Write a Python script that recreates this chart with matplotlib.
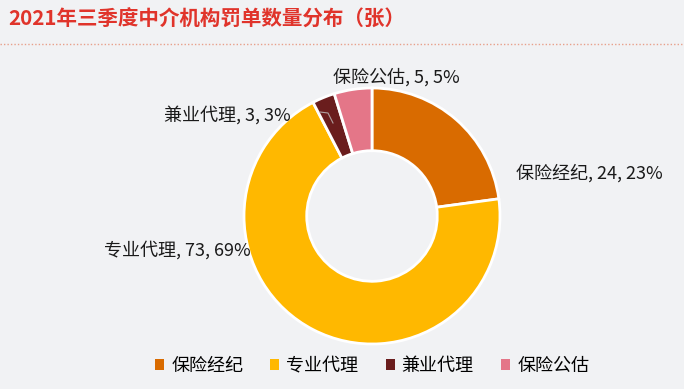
import matplotlib
matplotlib.use('Agg')
import matplotlib.pyplot as plt
from matplotlib.patches import Patch
from matplotlib.lines import Line2D

plt.rcParams['font.family'] = ['Noto Sans CJK SC', 'DejaVu Sans']

# --- DATA ---
CATEGORIES = ['保险经纪', '专业代理', '兼业代理', '保险公估']
COUNTS = [24, 73, 3, 5]
PERCENTS = [23, 69, 3, 5]
COLORS = ['#D96B00', '#FFB800', '#6A1D1D', '#E47688']
TITLE = '2021年三季度中介机构罚单数量分布（张）'

BG = '#F1F2F4'
W, H = 684, 389

fig = plt.figure(figsize=(W / 100, H / 100), dpi=100, facecolor=BG)
ax = fig.add_axes([0, 0, 1, 1])

cx, cy, r = 372, H - 216, 128
wedges, _ = ax.pie(COUNTS, colors=COLORS, startangle=90, counterclock=False,
                   center=(cx, cy), radius=r, frame=True,
                   wedgeprops=dict(width=r * 0.49, edgecolor='white', linewidth=2))
ax.set_xlim(0, W)
ax.set_ylim(0, H)
ax.axis('off')

# data labels (pixel positions)
label_pos = [(516, 173, 'left'), (251, 250, 'right'), (291, 115, 'right'), (333, 77, 'left')]
for (x, y, ha), name, n, p in zip(label_pos, CATEGORIES, COUNTS, PERCENTS):
    ax.text(x, H - y, f'{name}, {n}, {p}%', fontsize=13, ha=ha, va='center', color='#1A1A1A')

# leader line for the thin slice
ax.add_line(Line2D([320, 328, 333], [H - 112, H - 113, H - 123], color='#B0A0A0', lw=0.8))

# title and dotted rule
fig.text(8 / W, 1 - 19 / H, TITLE, fontsize=14.8, fontweight='bold', color='#E0342B',
         ha='left', va='center')
ax.add_line(Line2D([0, W], [H - 44, H - 44], color='#E8A08A', lw=1.0, linestyle=(0, (1, 1.5))))

handles = [Patch(facecolor=c, edgecolor='none') for c in COLORS]
fig.legend(handles, CATEGORIES, loc='center', bbox_to_anchor=(372 / W, 1 - 366 / H), ncol=4,
           frameon=False, fontsize=13, handlelength=0.5, handleheight=0.5,
           handletextpad=0.4, columnspacing=1.5)

fig.savefig('out.png', dpi=100, facecolor=BG)
